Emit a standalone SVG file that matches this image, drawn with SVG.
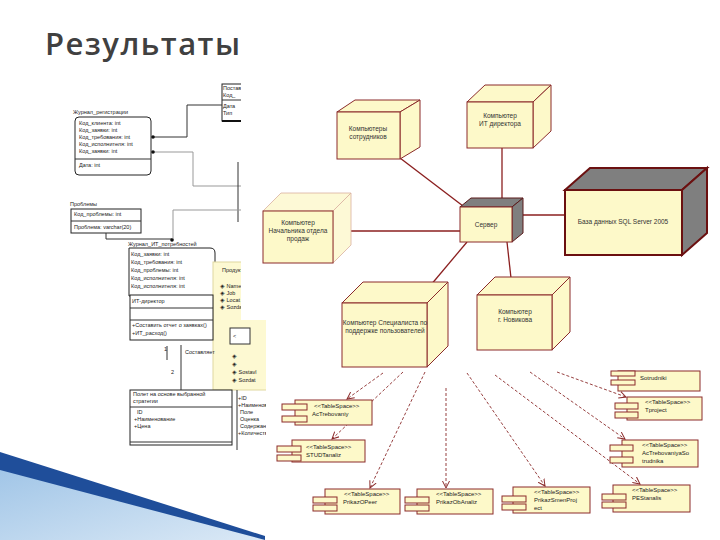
<svg xmlns="http://www.w3.org/2000/svg" width="720" height="540" viewBox="0 0 720 540">
<style>
.t{font-family:"Liberation Sans",Arial,sans-serif;fill:#222}
.s6{font-size:6px}
.s55{font-size:5.5px}
.er{fill:#fff;stroke:#222;stroke-width:1}
.erl{fill:none;stroke:#333;stroke-width:1}
.erg{fill:none;stroke:#999;stroke-width:1}
.nf{fill:#fdf9c9;stroke:#8b2b2b;stroke-width:1}
.nfp{fill:#fdf9d6;stroke:#d9b0a0;stroke-width:0.8}
.gr{fill:#7f7f7f;stroke:#5a1a1a;stroke-width:1}
.cn{fill:none;stroke:#8b1f1f;stroke-width:1.3}
.dl{fill:none;stroke:#8b2b2b;stroke-width:0.9;stroke-dasharray:3 2}
.cp{fill:#fdf9c9;stroke:#8b2b2b;stroke-width:1}
.nt{font-family:"Liberation Sans",Arial,sans-serif;font-size:6.5px;fill:#333;text-anchor:middle}
.ct{font-family:"Liberation Sans",Arial,sans-serif;font-size:6px;fill:#222}
</style>
<defs>
<marker id="ar" markerWidth="8" markerHeight="8" refX="7" refY="4" orient="auto" markerUnits="userSpaceOnUse">
<path d="M0,0.5 L7,4 L0,7.5" fill="none" stroke="#8b2b2b" stroke-width="1"/>
</marker>
<clipPath id="lc"><polygon points="60,75 241,75 241,320 266,320 266,450 60,450"/></clipPath>
<linearGradient id="bl" x1="0" y1="0" x2="1" y2="1">
<stop offset="0" stop-color="#9dc3e6"/><stop offset="1" stop-color="#dbe9f6"/>
</linearGradient>
</defs>
<rect width="720" height="540" fill="#fff"/>

<text x="45" y="55" font-family="'Open Sans','Noto Sans',sans-serif" font-size="31" font-weight="600" fill="#404040" textLength="195">Результаты</text>

<g id="bottom-swoosh">
<polygon points="0,458 265,540 0,540" fill="url(#bl)"/>
<polygon points="0,452 265,536 265,540 0,470" fill="#1f4e9a"/>
</g>

<g id="er-diagram" clip-path="url(#lc)">
<g id="t-postav">
<rect x="222" y="84" width="30" height="37" class="er"/>
<line x1="222" y1="100" x2="252" y2="100" class="erl"/>
<line x1="222" y1="121" x2="252" y2="121" stroke="#111" stroke-width="2"/>
<text x="223" y="90" class="t s55">Поставка</text>
<text x="223" y="97" class="t s55">Код_</text>
<text x="223" y="108" class="t s55">Дата</text>
<text x="223" y="115" class="t s55">Тип</text>
</g>
<g id="t-journal">
<text x="73" y="114" class="t s55">Журнал_регистрации</text>
<rect x="75" y="117" width="76" height="58" rx="4" class="er"/>
<line x1="75" y1="159" x2="151" y2="159" class="erl"/>
<text x="79" y="125" class="t s55">Код_клиента: int</text>
<text x="79" y="132" class="t s55">Код_заявки: int</text>
<text x="79" y="139" class="t s55">Код_требования: int</text>
<text x="79" y="146" class="t s55">Код_исполнителя: int</text>
<text x="79" y="153" class="t s55">Код_заявки: int</text>
<text x="79" y="167" class="t s55">Дата: int</text>
</g>
<g id="t-problems">
<text x="70" y="206" class="t s55">Проблемы</text>
<rect x="71" y="209" width="70" height="24" class="er"/>
<line x1="71" y1="221" x2="141" y2="221" class="erl"/>
<text x="74" y="216" class="t s55">Код_проблемы: int</text>
<text x="74" y="229" class="t s55">Проблема: varchar(20)</text>
</g>
<g id="t-itneeds">
<text x="128" y="246" class="t s55">Журнал_ИТ_потребностей</text>
<path d="M129,248 H210 Q215,248 215,253 V296 H129 Z" class="er"/>
<text x="131" y="256" class="t s55">Код_заявки: int</text>
<text x="131" y="264" class="t s55">Код_требования: int</text>
<text x="131" y="272" class="t s55">Код_проблемы: int</text>
<text x="131" y="280" class="t s55">Код_исполнителя: int</text>
<text x="131" y="288" class="t s55">Код_исполнителя: int</text>
</g>
<g id="c-product">
<rect x="213" y="262" width="60" height="128" fill="#fdf9d2" stroke="#e0d8a0"/>
<text x="222" y="272" class="t s55">Продукт</text>
<text x="220" y="288" class="t s55">◈ Name</text>
<text x="220" y="295" class="t s55">◈ Job</text>
<text x="220" y="302" class="t s55">◈ Locat</text>
<text x="220" y="309" class="t s55">◈ Sozdat</text>
<rect x="230" y="328" width="20" height="16" fill="#fff" stroke="#333"/>
<text x="233" y="338" class="t s55">&lt;</text>
<text x="232" y="358" class="t s55">◈</text>
<text x="232" y="366" class="t s55">◈</text>
<text x="232" y="374" class="t s55">◈ Sostavl</text>
<text x="232" y="382" class="t s55">◈ Sozdat</text>
</g>
<g id="c-itdirector">
<rect x="130" y="295" width="83" height="45" class="er"/>
<line x1="130" y1="308" x2="213" y2="308" class="erl"/>
<line x1="130" y1="320" x2="213" y2="320" class="erl"/>
<text x="132" y="303" class="t s55">ИТ-директор</text>
<text x="132" y="327" class="t s55">+Составить отчет о заявках()</text>
<text x="132" y="335" class="t s55">+ИТ_расход()</text>
</g>
<g id="c-flight">
<rect x="130" y="390" width="102" height="55" class="er"/>
<line x1="130" y1="407" x2="232" y2="407" class="erl"/>
<line x1="130" y1="442" x2="232" y2="442" class="erl"/>
<text x="133" y="396" class="t s55">Полет на основе выбранной</text>
<text x="133" y="403" class="t s55">стратегии</text>
<text x="137" y="414" class="t s55">ID</text>
<text x="134" y="421" class="t s55">+Наименование</text>
<text x="134" y="428" class="t s55">+Цена</text>
</g>
<g id="c-right">
<line x1="237" y1="390" x2="237" y2="450" class="erl"/>
<text x="238" y="400" class="t s55">+ID</text>
<text x="238" y="407" class="t s55">+Наименование</text>
<text x="240" y="414" class="t s55">Поле</text>
<text x="240" y="421" class="t s55">Оценка</text>
<text x="240" y="428" class="t s55">Содержание</text>
<text x="238" y="435" class="t s55">+Количество</text>
</g>
<g id="er-links">
<polyline points="152,137 187,137 187,105 222,105" class="erl"/>
<circle cx="153" cy="137" r="1.8" fill="#111"/>
<polyline points="152,152 193,152 193,186 241,186" class="erg"/>
<circle cx="153" cy="152" r="1.8" fill="#111"/>
<line x1="238" y1="162" x2="238" y2="222" class="erl"/>
<polyline points="173,240 173,210 241,210" class="erg"/>
<polyline points="106,233 106,239 172,239" class="erl"/>
<circle cx="172" cy="240" r="1.8" fill="#111"/>
<line x1="167" y1="346" x2="167" y2="360" class="erl"/>
<line x1="181" y1="345" x2="181" y2="390" class="erl"/>
<text x="164" y="351" class="t s55">1</text>
<text x="185" y="354" class="t s55">Составляет</text>
<text x="171" y="374" class="t s55">2</text>
</g>
</g>

<g id="connectors">
<line x1="400" y1="158" x2="463" y2="206" class="cn"/>
<line x1="502" y1="148" x2="502" y2="199" class="cn"/>
<line x1="351" y1="231" x2="460" y2="231" class="cn"/>
<line x1="467" y1="242" x2="430" y2="286" class="cn"/>
<line x1="507" y1="242" x2="511" y2="278" class="cn"/>
<line x1="523" y1="215" x2="565" y2="215" class="cn"/>
<line x1="383" y1="373" x2="347" y2="399" class="dl" marker-end="url(#ar)"/>
<line x1="403" y1="372" x2="332" y2="439" class="dl" marker-end="url(#ar)"/>
<line x1="425" y1="372" x2="370" y2="488" class="dl" marker-end="url(#ar)"/>
<line x1="446" y1="388" x2="446" y2="488" class="dl" marker-end="url(#ar)"/>
<line x1="467" y1="373" x2="545" y2="486" class="dl" marker-end="url(#ar)"/>
<line x1="495" y1="375" x2="640" y2="484" class="dl" marker-end="url(#ar)"/>
<line x1="530" y1="372" x2="625" y2="439" class="dl" marker-end="url(#ar)"/>
<line x1="557" y1="372" x2="626" y2="397" class="dl" marker-end="url(#ar)"/>
</g>

<g id="n-sotrudniki">
<polygon points="337,112 355,100 420,100 400,112" class="nf"/>
<polygon points="400,112 420,100 420,147 400,159" class="nf"/>
<rect x="337" y="112" width="63" height="47" class="nf"/>
<text x="368" y="131" class="nt">Компьютеры</text>
<text x="368" y="139" class="nt">сотрудников</text>
</g>
<g id="n-itdir">
<polygon points="467,102 485,85 551,85 533,102" class="nf"/>
<polygon points="533,102 551,85 551,131 533,148" class="nf"/>
<rect x="467" y="102" width="66" height="46" class="nf"/>
<text x="500" y="118" class="nt">Компьютер</text>
<text x="500" y="126" class="nt">ИТ директора</text>
</g>
<g id="n-server">
<polygon points="460,207 471,198 523,198 512,207" class="gr"/>
<polygon points="512,207 523,198 523,233 512,242" class="gr"/>
<rect x="460" y="207" width="52" height="35" class="nf" stroke="#5a1a1a"/>
<text x="486" y="227" class="nt">Сервер</text>
</g>
<g id="n-sql">
<polygon points="565,190 590,168 707,168 682,190" fill="#7f7f7f" stroke="#6b1010" stroke-width="2"/>
<polygon points="682,190 707,168 707,233 682,255" fill="#7f7f7f" stroke="#6b1010" stroke-width="2"/>
<rect x="565" y="190" width="117" height="65" fill="#fdf9c9" stroke="#6b1010" stroke-width="2"/>
<text x="623" y="224" class="nt">База данных SQL Server 2005</text>
</g>
<g id="n-nachalnik">
<polygon points="263,211 281,193 351,193 333,211" class="nfp"/>
<polygon points="333,211 351,193 351,245 333,263" class="nfp"/>
<rect x="263" y="211" width="70" height="52" class="nf" stroke="#5a1a1a"/>
<text x="298" y="225" class="nt">Компьютер</text>
<text x="298" y="233" class="nt">Начальника отдела</text>
<text x="298" y="241" class="nt">продаж</text>
</g>
<g id="n-specialist">
<polygon points="342,303 363,282 448,282 427,303" class="nf"/>
<polygon points="427,303 448,282 448,346 427,367" class="nf"/>
<rect x="342" y="303" width="85" height="64" class="nf"/>
<text x="385" y="325" class="nt">Компьютер Специалиста по</text>
<text x="385" y="333" class="nt">поддержке пользователей</text>
</g>
<g id="n-novikov">
<polygon points="477,295 495,277 570,277 552,295" class="nf"/>
<polygon points="552,295 570,277 570,332 552,350" class="nf"/>
<rect x="477" y="295" width="75" height="55" class="nf"/>
<text x="515" y="314" class="nt">Компьютер</text>
<text x="515" y="322" class="nt">г. Новикова</text>
</g>

<g id="c-actreb">
<rect x="295" y="400" width="77" height="25" class="cp"/>
<rect x="282" y="404" width="25" height="6" class="cp"/>
<rect x="282" y="416" width="25" height="6" class="cp"/>
<text x="314" y="408" class="ct">&lt;&lt;TableSpace&gt;&gt;</text>
<text x="312" y="416" class="ct">AcTrebovaniy</text>
</g>
<g id="c-studt">
<rect x="292" y="440" width="73" height="22" class="cp"/>
<rect x="277" y="446" width="24" height="6" class="cp"/>
<rect x="277" y="455" width="24" height="6" class="cp"/>
<text x="306" y="449" class="ct">&lt;&lt;TableSpace&gt;&gt;</text>
<text x="306" y="457" class="ct">STUDTanaliz</text>
</g>
<g id="c-prikazoper">
<rect x="325" y="489" width="75" height="25" class="cp"/>
<rect x="313" y="497" width="24" height="6" class="cp"/>
<rect x="313" y="505" width="24" height="6" class="cp"/>
<text x="344" y="496" class="ct">&lt;&lt;TableSpace&gt;&gt;</text>
<text x="343" y="504" class="ct">PrikazOPeer</text>
</g>
<g id="c-prikazob">
<rect x="417" y="489" width="76" height="25" class="cp"/>
<rect x="405" y="497" width="24" height="6" class="cp"/>
<rect x="405" y="505" width="24" height="6" class="cp"/>
<text x="436" y="496" class="ct">&lt;&lt;TableSpace&gt;&gt;</text>
<text x="436" y="504" class="ct">PrikazObAnaliz</text>
</g>
<g id="c-prikazsmen">
<rect x="513" y="487" width="77" height="26" class="cp"/>
<rect x="502" y="496" width="24" height="6" class="cp"/>
<rect x="502" y="504" width="24" height="6" class="cp"/>
<text x="534" y="494" class="ct">&lt;&lt;TableSpace&gt;&gt;</text>
<text x="534" y="502" class="ct">PrikazSmenProj</text>
<text x="534" y="510" class="ct">ect</text>
</g>
<g id="c-pestanalis">
<rect x="613" y="485" width="77" height="27" class="cp"/>
<rect x="602" y="494" width="24" height="6" class="cp"/>
<rect x="602" y="502" width="24" height="6" class="cp"/>
<text x="632" y="492" class="ct">&lt;&lt;TableSpace&gt;&gt;</text>
<text x="632" y="500" class="ct">PEStanalis</text>
</g>
<g id="c-sotrudniki">
<rect x="618" y="371" width="82" height="20" class="cp"/>
<rect x="611" y="371" width="24" height="5" class="cp"/>
<rect x="611" y="380" width="24" height="5" class="cp"/>
<text x="640" y="380" class="ct">Sotrudniki</text>
</g>
<g id="c-tproject">
<rect x="627" y="397" width="75" height="23" class="cp"/>
<rect x="615" y="403" width="23" height="6" class="cp"/>
<rect x="615" y="412" width="23" height="6" class="cp"/>
<text x="645" y="404" class="ct">&lt;&lt;TableSpace&gt;&gt;</text>
<text x="645" y="412" class="ct">Tproject</text>
</g>
<g id="c-actrebsotr">
<rect x="622" y="440" width="76" height="27" class="cp"/>
<rect x="610" y="445" width="23" height="6" class="cp"/>
<rect x="610" y="457" width="23" height="6" class="cp"/>
<text x="642" y="447" class="ct">&lt;&lt;TableSpace&gt;&gt;</text>
<text x="642" y="455" class="ct">AcTrebovaniyaSo</text>
<text x="642" y="463" class="ct">trudnika</text>
</g>
</svg>
